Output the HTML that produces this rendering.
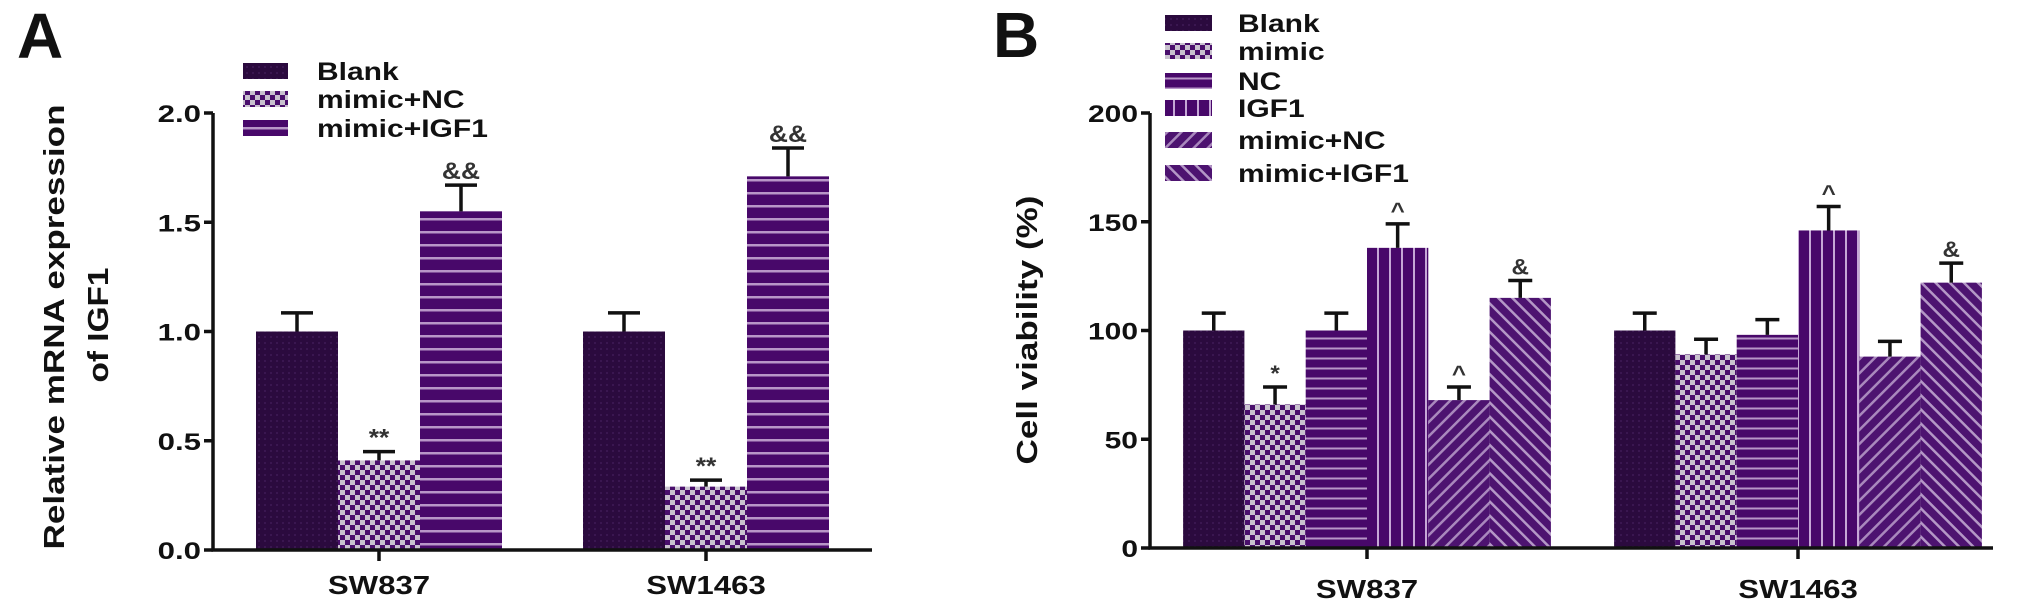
<!DOCTYPE html>
<html><head><meta charset="utf-8"><style>
html,body{margin:0;padding:0;background:#fff;}
svg{display:block;font-family:"Liberation Sans",Arial,sans-serif;font-weight:bold;}
</style></head><body>
<svg id="chart" width="2031" height="608" viewBox="0 0 2031 608" xmlns="http://www.w3.org/2000/svg">
<defs>
<pattern id="pBlank" width="6" height="6" patternUnits="userSpaceOnUse"><rect width="6" height="6" fill="#2b0a3e"/><rect x="0" y="0" width="2" height="2" fill="#3a1650"/></pattern>
<pattern id="pCheck" width="10" height="10" patternUnits="userSpaceOnUse"><rect width="10" height="10" fill="#4a0f6c"/><rect x="0" y="0" width="5" height="5" fill="#c9c2cf"/><rect x="5" y="5" width="5" height="5" fill="#c9c2cf"/></pattern>
<pattern id="pHA" width="13" height="13" patternUnits="userSpaceOnUse"><rect width="13" height="13" fill="#48086a"/><rect x="0" y="10" width="13" height="2.5" fill="#b896c8"/></pattern>
<pattern id="pHB" width="10" height="10" patternUnits="userSpaceOnUse"><rect width="10" height="10" fill="#48086a"/><rect x="0" y="7.5" width="10" height="2" fill="#b896c8"/></pattern>
<pattern id="pV" width="12" height="12" patternUnits="userSpaceOnUse"><rect width="12" height="12" fill="#48086a"/><rect x="9" y="0" width="2" height="12" fill="#c6a8d6"/></pattern>
<pattern id="pD1" width="10" height="10" patternUnits="userSpaceOnUse" patternTransform="rotate(45)"><rect width="10" height="10" fill="#4d1370"/><rect x="7.5" y="0" width="2.5" height="10" fill="#a988bd"/></pattern>
<pattern id="pD2" width="10" height="10" patternUnits="userSpaceOnUse" patternTransform="rotate(-45)"><rect width="10" height="10" fill="#4d1370"/><rect x="7.5" y="0" width="2.5" height="10" fill="#b497c6"/></pattern>
</defs>
<g id="gA"></g>
<g id="gB"></g>
</svg>
<script>
// Panel A data
const groupsA = ["SW837", "SW1463"];
const seriesA = ["Blank", "mimic+NC", "mimic+IGF1"];
const valuesA = [[1.00, 0.41, 1.55], [1.00, 0.29, 1.71]];
const errorsA = [[0.085, 0.04, 0.12], [0.085, 0.03, 0.13]];
const marksA = [["", "**", "&&"], ["", "**", "&&"]];
const ticksA = [0, 0.5, 1.0, 1.5, 2.0];
const tickLabelsA = ["0.0", "0.5", "1.0", "1.5", "2.0"];
// Panel B data
const groupsB = ["SW837", "SW1463"];
const seriesB = ["Blank", "mimic", "NC", "IGF1", "mimic+NC", "mimic+IGF1"];
const valuesB = [[100, 66, 100, 138, 68, 115], [100, 89, 98, 146, 88, 122]];
const errorsB = [[8, 8, 8, 11, 6, 8], [8, 7, 7, 11, 7, 9]];
const marksB = [["", "*", "", "^", "^", "&"], ["", "", "", "^", "", "&"]];
const ticksB = [0, 50, 100, 150, 200];
const tickLabelsB = ["0", "50", "100", "150", "200"];

const NS = "http://www.w3.org/2000/svg";
function mk(parent, tag, attrs){const e=document.createElementNS(NS,tag);for(const k in attrs)e.setAttribute(k,attrs[k]);parent.appendChild(e);return e;}
function txt(parent, x, y, s, size, anchor, sx){const t=mk(parent,"text",{transform:`translate(${x},${y}) scale(${sx||1.22},1)`,"font-size":size,"text-anchor":anchor||"start",fill:"#111"});t.textContent=s;return t;}

function panel(cfg){
  const g=document.getElementById(cfg.id);
  const y=v=>cfg.y0-(v/cfg.vmax)*(cfg.y0-cfg.yTop);
  cfg.values.forEach((row,gi)=>{
    row.forEach((v,si)=>{
      const cx=cfg.centers[gi]+(si-(row.length-1)/2)*cfg.bw;
      const r=mk(g,"rect",{x:cx-cfg.bw/2,y:y(v),width:cfg.bw,height:cfg.y0-y(v),fill:`url(#${cfg.pats[si]})`});
      
      
      const ye=y(v+cfg.errors[gi][si]);
      const eb=mk(g,"path",{d:`M${cx},${y(v)}V${ye}M${cx-cfg.cap},${ye}H${cx+cfg.cap}`,stroke:"#111","stroke-width":3.5,fill:"none"});
      
      
      const m=cfg.marks[gi][si];
      if(m){const t=txt(g,cx,ye-6,m,cfg.markSize,"middle",1.1);t.setAttribute("fill","#333");
        
        }
    });
  });
  const ax=mk(g,"path",{d:`M${cfg.axX},${y(cfg.vmax)}V${cfg.y0}H${cfg.xEnd}`,stroke:"#111","stroke-width":3.5,fill:"none"});
  
  
  cfg.ticks.forEach((v,i)=>{
    mk(g,"line",{x1:cfg.axX-9,x2:cfg.axX,y1:y(v),y2:y(v),stroke:"#111","stroke-width":3.5});
    const t=txt(g,cfg.axX-12,y(v)+9,cfg.tickLabels[i],24,"end",cfg.tsx);
    
    
  });
  cfg.groups.forEach((name,gi)=>{
    mk(g,"line",{x1:cfg.centers[gi],x2:cfg.centers[gi],y1:cfg.y0,y2:cfg.y0+11,stroke:"#111","stroke-width":3.5});
    const t=txt(g,cfg.centers[gi],cfg.labY,name,26,"middle",1.2);
    
    
  });
  cfg.series.forEach((s,si)=>{
    const ly=cfg.legY[si];
    const lr=mk(g,"rect",{x:cfg.legX,y:ly-8,width:cfg.legW,height:16,fill:`url(#${cfg.pats[si]})`});
    
    
    const t=txt(g,cfg.legTX,ly+9,s,25,"start",1.2);
    
    
  });
}

panel({id:"gA",groups:groupsA,series:seriesA,values:valuesA,errors:errorsA,marks:marksA,ticks:ticksA,tickLabels:tickLabelsA,
  vmax:2,y0:550,yTop:113,axX:213,xEnd:872,centers:[379,706],bw:82,cap:16,markSize:24,
  pats:["pBlank","pCheck","pHA"],labY:594,tsx:1.3,legX:243,legW:45,legTX:317,legY:[71,99,128]});
panel({id:"gB",groups:groupsB,series:seriesB,values:valuesB,errors:errorsB,marks:marksB,ticks:ticksB,tickLabels:tickLabelsB,
  vmax:200,y0:548,yTop:113,axX:1150,xEnd:1993,centers:[1367,1798],bw:61.3,cap:12,markSize:22,
  pats:["pBlank","pCheck","pHB","pV","pD1","pD2"],labY:598,tsx:1.25,legX:1165,legW:47,legTX:1238,legY:[23,51,81,108,140,173]});

const gA=document.getElementById("gA"), gB=document.getElementById("gB");
let t=mk(gA,"text",{x:17,y:58,"font-size":64,fill:"#111"});t.textContent="A";


t=mk(gB,"text",{x:993,y:57,"font-size":64,fill:"#111"});t.textContent="B";


t=mk(gA,"text",{transform:"translate(64,327) rotate(-90)","font-size":29,"text-anchor":"middle",fill:"#111",textLength:445,lengthAdjust:"spacingAndGlyphs"});t.textContent="Relative mRNA expression";


t=mk(gA,"text",{transform:"translate(108,325) rotate(-90)","font-size":29,"text-anchor":"middle",fill:"#111",textLength:115,lengthAdjust:"spacingAndGlyphs"});t.textContent="of IGF1";


t=mk(gB,"text",{transform:"translate(1037,330) rotate(-90)","font-size":29,"text-anchor":"middle",fill:"#111",textLength:269,lengthAdjust:"spacingAndGlyphs"});t.textContent="Cell viability (%)";


</script>
</body></html>
